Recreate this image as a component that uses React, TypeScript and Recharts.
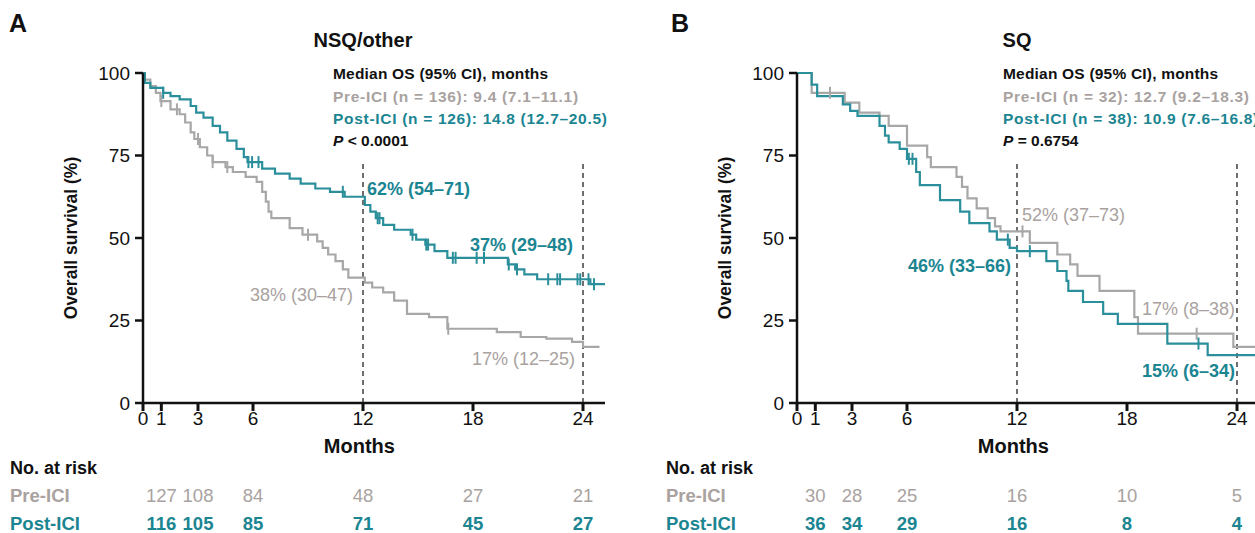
import React from 'react'
import {
  ComposedChart,
  Line,
  Scatter,
  XAxis,
  YAxis,
  ReferenceLine,
} from 'recharts'

// axis ticks
const monthTicks = [0, 1, 3, 6, 12, 18, 24]
const survivalTicks = [0, 25, 50, 75, 100]
const riskMonths = [1, 3, 6, 12, 18, 24]

// NSQ/other, [month, overall survival %]
const nsqPre = [
  [0, 100], [0.1, 98], [0.4, 96], [0.7, 94], [0.95, 91.5], [1.5, 89], [2.0, 87.5],
  [2.3, 85], [2.6, 82], [2.8, 80], [3.1, 77.5], [3.5, 75], [3.8, 73], [4.5, 71.5],
  [4.9, 70], [5.6, 68.5], [6.2, 67], [6.5, 64], [6.7, 61], [6.85, 58], [7.0, 56],
  [8.0, 53], [8.7, 51], [9.5, 49], [9.8, 47], [10.1, 45], [10.5, 43], [10.9, 40.5],
  [11.2, 38], [12.1, 36.5], [12.5, 35], [13.1, 33.5], [13.7, 31], [14.4, 27],
  [15.6, 26], [16.6, 22.5], [19.3, 21.5], [20.6, 20], [22.0, 19.5], [23.4, 18.5],
  [24.0, 17], [24.9, 17],
]
const nsqPreCensor = [
  [1.0, 91.5], [1.85, 89], [3.0, 80], [3.8, 73], [4.6, 71.5], [9.0, 51], [16.65, 22.5],
]
const nsqPost = [
  [0, 100], [0.1, 97], [0.4, 95.5], [1.1, 94], [1.5, 93], [2.0, 92], [2.6, 90],
  [2.9, 88], [3.3, 86.5], [3.8, 84], [4.2, 82], [4.6, 79.5], [5.1, 77], [5.5, 74.5],
  [5.7, 73], [6.5, 71], [7.2, 69.5], [8.0, 68], [8.6, 66.5], [9.4, 65], [10.2, 64],
  [11.0, 62.5], [12.1, 60], [12.4, 58], [12.7, 56], [13.1, 54], [13.7, 52.5],
  [14.6, 51], [14.9, 49.5], [15.4, 48], [15.9, 46], [16.6, 44], [19.9, 42],
  [20.3, 40.5], [20.8, 39], [21.5, 37.5], [24.4, 36], [25.2, 36],
]
const nsqPostCensor = [
  [1.1, 94], [5.75, 73], [5.95, 73], [6.3, 73], [10.9, 64], [12.8, 56], [12.9, 56],
  [14.7, 51], [15.45, 48], [15.55, 48], [16.9, 44], [17.05, 44], [18.2, 44], [18.6, 44],
  [19.95, 42], [20.4, 40.5], [22.1, 37.5], [22.6, 37.5], [22.75, 37.5], [23.7, 37.5],
  [23.85, 37.5], [24.3, 37.5], [24.6, 36],
]

// SQ
const sqPre = [
  [0, 100], [0.8, 94], [2.6, 91], [3.4, 88], [4.5, 87], [5.0, 84], [6.0, 78],
  [7.1, 74.5], [7.3, 71.5], [8.7, 68.5], [9.0, 65.5], [9.3, 62], [9.8, 59],
  [10.4, 56], [10.8, 53.5], [11.1, 52], [12.7, 48.5], [14.2, 45], [14.9, 42],
  [15.3, 38.5], [16.5, 34], [18.4, 26], [18.6, 21], [23.8, 17], [25.2, 17],
]
const sqPreCensor = [[1.8, 94], [12.3, 52], [21.8, 21]]
const sqPost = [
  [0, 100], [0.8, 96.5], [1.1, 93], [2.5, 90.5], [2.9, 88.5], [3.3, 87], [4.5, 84],
  [4.8, 81], [5.0, 79], [5.6, 77], [6.0, 74], [6.5, 70], [6.7, 66], [7.8, 61.5],
  [8.9, 58], [9.4, 54.5], [10.5, 52], [10.9, 49.5], [11.6, 47], [12.0, 46],
  [13.6, 43], [14.2, 40], [14.7, 37], [14.8, 34], [15.6, 30.6], [16.7, 27],
  [17.5, 24], [20.2, 18], [22.4, 14.5], [25.2, 14.5],
]
const sqPostCensor = [[6.1, 74], [6.3, 74], [11.5, 49.5], [12.7, 46], [21.9, 18]]

// numbers at risk
const nsqRiskPre = [127, 108, 84, 48, 27, 21]
const nsqRiskPost = [116, 105, 85, 71, 45, 27]
const sqRiskPre = [30, 28, 25, 16, 10, 5]
const sqRiskPost = [36, 34, 29, 16, 8, 4]

const GRAY = '#a7a7a7'
const GRAY_TXT = '#a9a29f'
const TEAL = '#2b8f9b'
const TEAL_TXT = '#1b8592'
const INK = '#111'
const FONT = '"Liberation Sans", Arial, Helvetica, sans-serif'

// plot geometry inside each chart
const AXIS_X = 143
const PX_PER_MONTH = 462 / 25.2

const toPts = (arr: number[][]) => arr.map(([m, s]) => ({ m, s }))

function Txt({ x, y, size = 18, weight = 400, color = INK, spacing = 0, align = 'left', children }: any) {
  const tx = align === 'center' ? '-50%' : align === 'right' ? '-100%' : '0'
  return (
    <div
      style={{
        position: 'absolute',
        left: x,
        top: y,
        transform: `translate(${tx}, -50%)`,
        fontSize: size,
        fontWeight: weight,
        letterSpacing: spacing,
        color,
        lineHeight: 1,
        whiteSpace: 'nowrap',
        fontFamily: FONT,
      }}
    >
      {children}
    </div>
  )
}

function censorShape(color: string) {
  return (p: any) => {
    if (p.cx == null || p.cy == null) return <g />
    return <line x1={p.cx} x2={p.cx} y1={p.cy - 6} y2={p.cy + 6} stroke={color} strokeWidth={2} />
  }
}

function KmPlot({ pre, preCensor, post, postCensor }: any) {
  const tick = { fill: INK, fontSize: 19, fontFamily: FONT }
  return (
    <ComposedChart width={620} height={440} margin={{ top: 73, right: 15, bottom: 7, left: 83 }}>
      <XAxis
        type="number"
        dataKey="m"
        domain={[0, 25.2]}
        ticks={monthTicks}
        interval={0}
        allowDataOverflow
        height={30}
        tickSize={8}
        tickMargin={1}
        axisLine={{ stroke: INK, strokeWidth: 2.5 }}
        tickLine={{ stroke: INK, strokeWidth: 3 }}
        tick={tick}
      />
      <YAxis
        type="number"
        dataKey="s"
        domain={[0, 100]}
        ticks={survivalTicks}
        interval={0}
        width={60}
        tickSize={8}
        tickMargin={5}
        axisLine={{ stroke: INK, strokeWidth: 2.5 }}
        tickLine={{ stroke: INK, strokeWidth: 2.5 }}
        tick={tick}
      />
      <ReferenceLine segment={[{ x: 12, y: 0 }, { x: 12, y: 73 }]} stroke="#222" strokeDasharray="5 4" strokeWidth={1.3} />
      <ReferenceLine segment={[{ x: 24, y: 0 }, { x: 24, y: 73 }]} stroke="#222" strokeDasharray="5 4" strokeWidth={1.3} />
      <Line data={toPts(pre)} dataKey="s" type="stepAfter" stroke={GRAY} strokeWidth={2.2} dot={false} isAnimationActive={false} />
      <Line data={toPts(post)} dataKey="s" type="stepAfter" stroke={TEAL} strokeWidth={2.2} dot={false} isAnimationActive={false} />
      <Scatter data={toPts(preCensor)} dataKey="s" shape={censorShape(GRAY)} isAnimationActive={false} />
      <Scatter data={toPts(postCensor)} dataKey="s" shape={censorShape(TEAL)} isAnimationActive={false} />
    </ComposedChart>
  )
}

function RiskTable({ pre, post, labelX }: any) {
  return (
    <>
      <Txt x={labelX} y={468} size={18} weight={700}>No. at risk</Txt>
      <Txt x={labelX} y={496} size={18.5} weight={700} color={GRAY_TXT}>Pre-ICI</Txt>
      <Txt x={labelX} y={524} size={18.5} weight={700} color={TEAL_TXT}>Post-ICI</Txt>
      {riskMonths.map((m, i) => (
        <Txt key={'a' + m} x={AXIS_X + m * PX_PER_MONTH} y={496} size={18.5} color={GRAY_TXT} align="center">
          {pre[i]}
        </Txt>
      ))}
      {riskMonths.map((m, i) => (
        <Txt key={'b' + m} x={AXIS_X + m * PX_PER_MONTH} y={524} size={18.5} weight={700} color={TEAL_TXT} align="center">
          {post[i]}
        </Txt>
      ))}
    </>
  )
}

function Common({ title }: { title: string }) {
  return (
    <>
      <Txt x={AXIS_X + 12 * PX_PER_MONTH} y={40} size={20} weight={700} align="center">{title}</Txt>
      <Txt x={AXIS_X + 11.8 * PX_PER_MONTH} y={446} size={20} weight={700} align="center">Months</Txt>
      <div
        style={{
          position: 'absolute',
          left: 72,
          top: 238,
          transform: 'translate(-50%, -50%) rotate(-90deg)',
          fontSize: 17.5,
          fontWeight: 700,
          lineHeight: 1,
          whiteSpace: 'nowrap',
          fontFamily: FONT,
          color: INK,
        }}
      >
        Overall survival (%)
      </div>
    </>
  )
}

function Legend({ x, pre, post, p }: any) {
  return (
    <>
      <Txt x={x} y={74} size={15.5} weight={700} spacing={0.2}>Median OS (95% CI), months</Txt>
      <Txt x={x} y={97} size={15.5} weight={700} spacing={0.7} color={GRAY_TXT}>{pre}</Txt>
      <Txt x={x} y={119} size={15.5} weight={700} spacing={0.7} color={TEAL_TXT}>{post}</Txt>
      <Txt x={x} y={141} size={15.5} weight={700}><i>P</i> {p}</Txt>
    </>
  )
}

export default function App() {
  return (
    <div
      style={{
        position: 'absolute',
        left: 0,
        top: 0,
        width: 1255,
        height: 533,
        overflow: 'hidden',
        background: '#fff',
        fontFamily: FONT,
      }}
    >
      {/* Panel A */}
      <div style={{ position: 'absolute', left: 0, top: 0, width: 640, height: 533 }}>
        <div style={{ position: 'absolute', left: 0, top: 0 }}>
          <KmPlot pre={nsqPre} preCensor={nsqPreCensor} post={nsqPost} postCensor={nsqPostCensor} />
        </div>
        <Txt x={9} y={23} size={25} weight={700}>A</Txt>
        <Common title="NSQ/other" />
        <Legend
          x={333}
          pre="Pre-ICI (n = 136): 9.4 (7.1–11.1)"
          post="Post-ICI (n = 126): 14.8 (12.7–20.5)"
          p="< 0.0001"
        />
        <Txt x={367} y={189} size={18} weight={700} color={TEAL_TXT}>62% (54–71)</Txt>
        <Txt x={470} y={245} size={18} weight={700} color={TEAL_TXT}>37% (29–48)</Txt>
        <Txt x={250} y={295} size={18} color={GRAY_TXT}>38% (30–47)</Txt>
        <Txt x={472} y={359} size={18} color={GRAY_TXT}>17% (12–25)</Txt>
        <RiskTable pre={nsqRiskPre} post={nsqRiskPost} labelX={10} />
      </div>

      {/* Panel B */}
      <div style={{ position: 'absolute', left: 654, top: 0, width: 640, height: 533 }}>
        <div style={{ position: 'absolute', left: 0, top: 0 }}>
          <KmPlot pre={sqPre} preCensor={sqPreCensor} post={sqPost} postCensor={sqPostCensor} />
        </div>
        <Txt x={17} y={23} size={25} weight={700}>B</Txt>
        <Common title="SQ" />
        <Legend
          x={349}
          pre="Pre-ICI (n = 32): 12.7 (9.2–18.3)"
          post="Post-ICI (n = 38): 10.9 (7.6–16.8)"
          p="= 0.6754"
        />
        <Txt x={368} y={215} size={18} color={GRAY_TXT}>52% (37–73)</Txt>
        <Txt x={254} y={266} size={18} weight={700} color={TEAL_TXT}>46% (33–66)</Txt>
        <Txt x={488} y={309} size={18} color={GRAY_TXT}>17% (8–38)</Txt>
        <Txt x={488} y={371} size={18} weight={700} color={TEAL_TXT}>15% (6–34)</Txt>
        <RiskTable pre={sqRiskPre} post={sqRiskPost} labelX={12} />
      </div>
    </div>
  )
}
